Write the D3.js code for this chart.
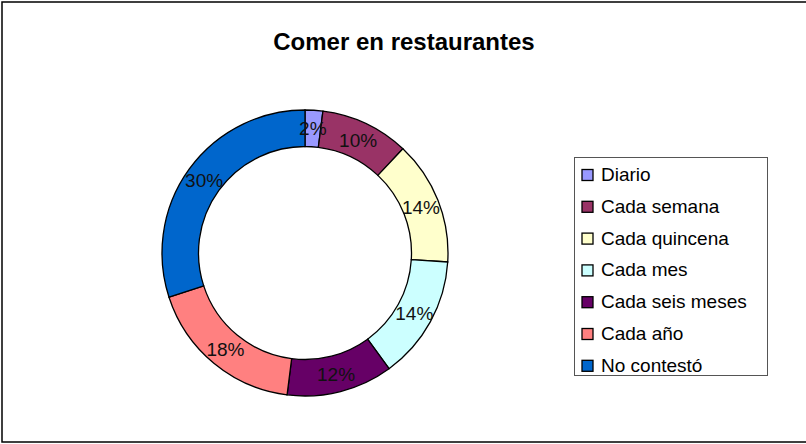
<!DOCTYPE html>
<html><head><meta charset="utf-8">
<script src="https://cdn.jsdelivr.net/npm/d3@7"></script>
<style>body{margin:0;background:#fff}svg{display:block}</style>
</head><body>
<script>
const title = "Comer en restaurantes";
const categories = ["Diario","Cada semana","Cada quincena","Cada mes","Cada seis meses","Cada año","No contestó"];
const values = [2,10,14,14,12,18,30];
const colors = ["#9999FF","#993366","#FFFFCC","#CCFFFF","#660066","#FF8080","#0066CC"];

const W=806,H=444;
const svg=d3.select("body").append("svg").attr("width",W).attr("height",H);
svg.append("rect").attr("width",W).attr("height",H).attr("fill","#fff");
svg.append("rect").attr("x",2).attr("y",2).attr("width",W+10).attr("height",440)
  .attr("fill","none").attr("stroke","#000").attr("stroke-width",1.5);

svg.append("text").attr("x",404).attr("y",49.5).attr("text-anchor","middle")
  .attr("font-family","Liberation Sans, Arial, sans-serif").attr("font-weight","bold")
  .attr("font-size",24).text(title);

const cx=305,cy=253,rO=143,rI=106.5;
const total=d3.sum(values);
const pie=d3.pie().sort(null).value(d=>d)(values);
const arc=d3.arc().innerRadius(rI).outerRadius(rO);
const g=svg.append("g").attr("transform",`translate(${cx},${cy})`);
g.selectAll("path").data(pie).join("path").attr("d",arc)
  .attr("fill",(d,i)=>colors[i]).attr("stroke","#000").attr("stroke-width",1.3);
const lab=d3.arc().innerRadius((rI+rO)/2).outerRadius((rI+rO)/2);
g.selectAll("text").data(pie).join("text")
  .attr("transform",d=>`translate(${lab.centroid(d)})`)
  .attr("text-anchor","middle").attr("dy","0.36em")
  .attr("font-family","Liberation Sans, Arial, sans-serif").attr("font-size",19)
  .attr("fill","#111")
  .text(d=>Math.round(d.value/total*100)+"%");

const lg=svg.append("g");
lg.append("rect").attr("x",574.5).attr("y",157.5).attr("width",193).attr("height",218)
  .attr("fill","#fff").attr("stroke","#555").attr("stroke-width",1);
const rows=lg.selectAll("g.r").data(categories).join("g").attr("class","r")
  .attr("transform",(d,i)=>`translate(0,${i*31.8})`);
rows.append("rect").attr("x",582).attr("y",169.5).attr("width",11).attr("height",11)
  .attr("fill",(d,i)=>colors[i]).attr("stroke","#000").attr("stroke-width",1.3);
rows.append("text").attr("x",601).attr("y",181)
  .attr("font-family","Liberation Sans, Arial, sans-serif").attr("font-size",19)
  .text(d=>d);
</script>
</body></html>
